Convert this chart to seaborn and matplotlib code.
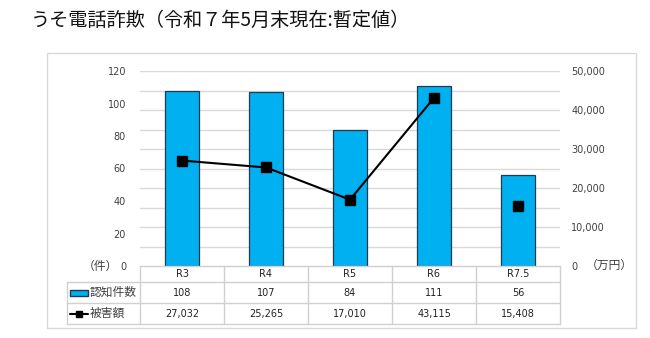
import matplotlib
matplotlib.use("Agg")
import matplotlib.pyplot as plt
import seaborn as sns
import pandas as pd
from matplotlib.patches import Rectangle
from matplotlib.lines import Line2D

categories = ["R3", "R4", "R5", "R6", "R7.5"]
counts = [108, 107, 84, 111, 56]
damages = [27032, 25265, 17010, 43115, 15408]
left_ticks = [0, 20, 40, 60, 80, 100, 120]
right_ticks = [0, 10000, 20000, 30000, 40000, 50000]
title = "うそ電話詐欺（令和７年5月末現在:暫定値）"
series_names = ["認知件数", "被害額"]

sns.set_theme(style="white")
plt.rcParams["font.family"] = ["Noto Sans CJK JP", "DejaVu Sans"]
NUM_FONT = ["DejaVu Sans", "Noto Sans CJK JP"]

W, H = 650, 338
fig = plt.figure(figsize=(6.5, 3.38), dpi=100)

def fx(px):
    return px / W

def fy(py):
    return 1 - py / H

BAR_C = "#00B0F0"
EDGE_C = "#1F3B4D"
GRID_C = "#D9D9D9"
TXT_C = "#404040"

# outer chart border
fig.patches.append(Rectangle((fx(47), fy(328)), fx(636) - fx(47), fy(53) - fy(328),
                             transform=fig.transFigure, fill=False, edgecolor="#D9D9D9", lw=1))

fig.text(fx(31), fy(20), title, fontsize=13.8, color="#111111", va="center", ha="left")

x0, x1, ytop, ybot = 140, 560, 71, 266
ax = fig.add_axes([fx(x0), fy(ybot), fx(x1) - fx(x0), fy(ytop) - fy(ybot)])
df = pd.DataFrame({"cat": categories, "count": counts})
sns.barplot(data=df, x="cat", y="count", ax=ax, color=BAR_C, width=0.4,
            edgecolor=EDGE_C, linewidth=0.9, saturation=1, zorder=3)
ax.set_ylim(0, 120)
ax.set_xlim(-0.5, len(categories) - 0.5)
ax.set_yticks(left_ticks)
ax.set_yticklabels([str(t) for t in left_ticks], fontsize=7, color=TXT_C, family=NUM_FONT)
ax.set_xticks([])
ax.set_xlabel("")
ax.set_ylabel("")
ax.tick_params(axis="y", length=0, pad=10)
for s in ax.spines.values():
    s.set_visible(False)

ax2 = ax.twinx()
ax2.set_ylim(0, 50000)
for g in range(5000, 50001, 5000):
    ax2.axhline(g, color=GRID_C, lw=1, zorder=0)
ax.set_zorder(ax2.get_zorder() + 1)
ax.patch.set_visible(False)
xs = list(range(len(categories)))
scale = 120 / 50000
ax.plot(xs[:4], [d * scale for d in damages[:4]], color="black", lw=1.5,
        marker="s", markersize=6.5, zorder=5)
ax.plot(xs[4:], [d * scale for d in damages[4:]], color="black", lw=0,
        marker="s", markersize=6.5, zorder=5)
ax2.set_yticks(right_ticks)
ax2.set_yticklabels([f"{t:,}" for t in right_ticks], fontsize=7, color=TXT_C, family=NUM_FONT)
ax2.tick_params(axis="y", length=0, pad=8)
for s in ax2.spines.values():
    s.set_visible(False)

fig.text(fx(100), fy(266), "（件）", fontsize=8.5, color=TXT_C, ha="center", va="center")
fig.text(fx(609), fy(265), "（万円）", fontsize=8.5, color=TXT_C, ha="center", va="center")

# data table
TB_C = "#D0D0D0"
rows_y = [266, 282, 303, 324]
lx = 67
colw = (x1 - x0) / len(categories)
lines = []
lines.append(((x0, rows_y[0]), (x1, rows_y[0])))
lines.append(((lx, rows_y[1]), (x1, rows_y[1])))
lines.append(((lx, rows_y[2]), (x1, rows_y[2])))
lines.append(((lx, rows_y[3]), (x1, rows_y[3])))
lines.append(((lx, rows_y[1]), (lx, rows_y[3])))
for i in range(len(categories) + 1):
    xx = x0 + i * colw
    lines.append(((xx, rows_y[0]), (xx, rows_y[3])))
for (a, b) in lines:
    fig.add_artist(Line2D([fx(a[0]), fx(b[0])], [fy(a[1]), fy(b[1])],
                          transform=fig.transFigure, color=TB_C, lw=1))

for i, c in enumerate(categories):
    cx = x0 + (i + 0.5) * colw
    fig.text(fx(cx), fy((rows_y[0] + rows_y[1]) / 2), c, fontsize=7, color="#222222",
             ha="center", va="center", family=NUM_FONT)
    fig.text(fx(cx), fy((rows_y[1] + rows_y[2]) / 2), str(counts[i]), fontsize=7,
             color="#222222", ha="center", va="center", family=NUM_FONT)
    fig.text(fx(cx), fy((rows_y[2] + rows_y[3]) / 2), f"{damages[i]:,}", fontsize=7,
             color="#222222", ha="center", va="center", family=NUM_FONT)

# legend keys
ym1 = (rows_y[1] + rows_y[2]) / 2
fig.patches.append(Rectangle((fx(70), fy(ym1 + 3)), fx(88) - fx(70), fy(ym1 - 3) - fy(ym1 + 3),
                             transform=fig.transFigure, facecolor=BAR_C, edgecolor=EDGE_C, lw=1))
fig.text(fx(90), fy(ym1), series_names[0], fontsize=8.5, color=TXT_C, ha="left", va="center")
ym2 = (rows_y[2] + rows_y[3]) / 2
fig.add_artist(Line2D([fx(70), fx(88)], [fy(ym2), fy(ym2)], transform=fig.transFigure,
                      color="black", lw=1.5))
fig.add_artist(Line2D([fx(79)], [fy(ym2)], transform=fig.transFigure, color="black",
                      marker="s", markersize=5, lw=0))
fig.text(fx(90), fy(ym2), series_names[1], fontsize=8.5, color=TXT_C, ha="left", va="center")

fig.savefig("out.png", dpi=100)
